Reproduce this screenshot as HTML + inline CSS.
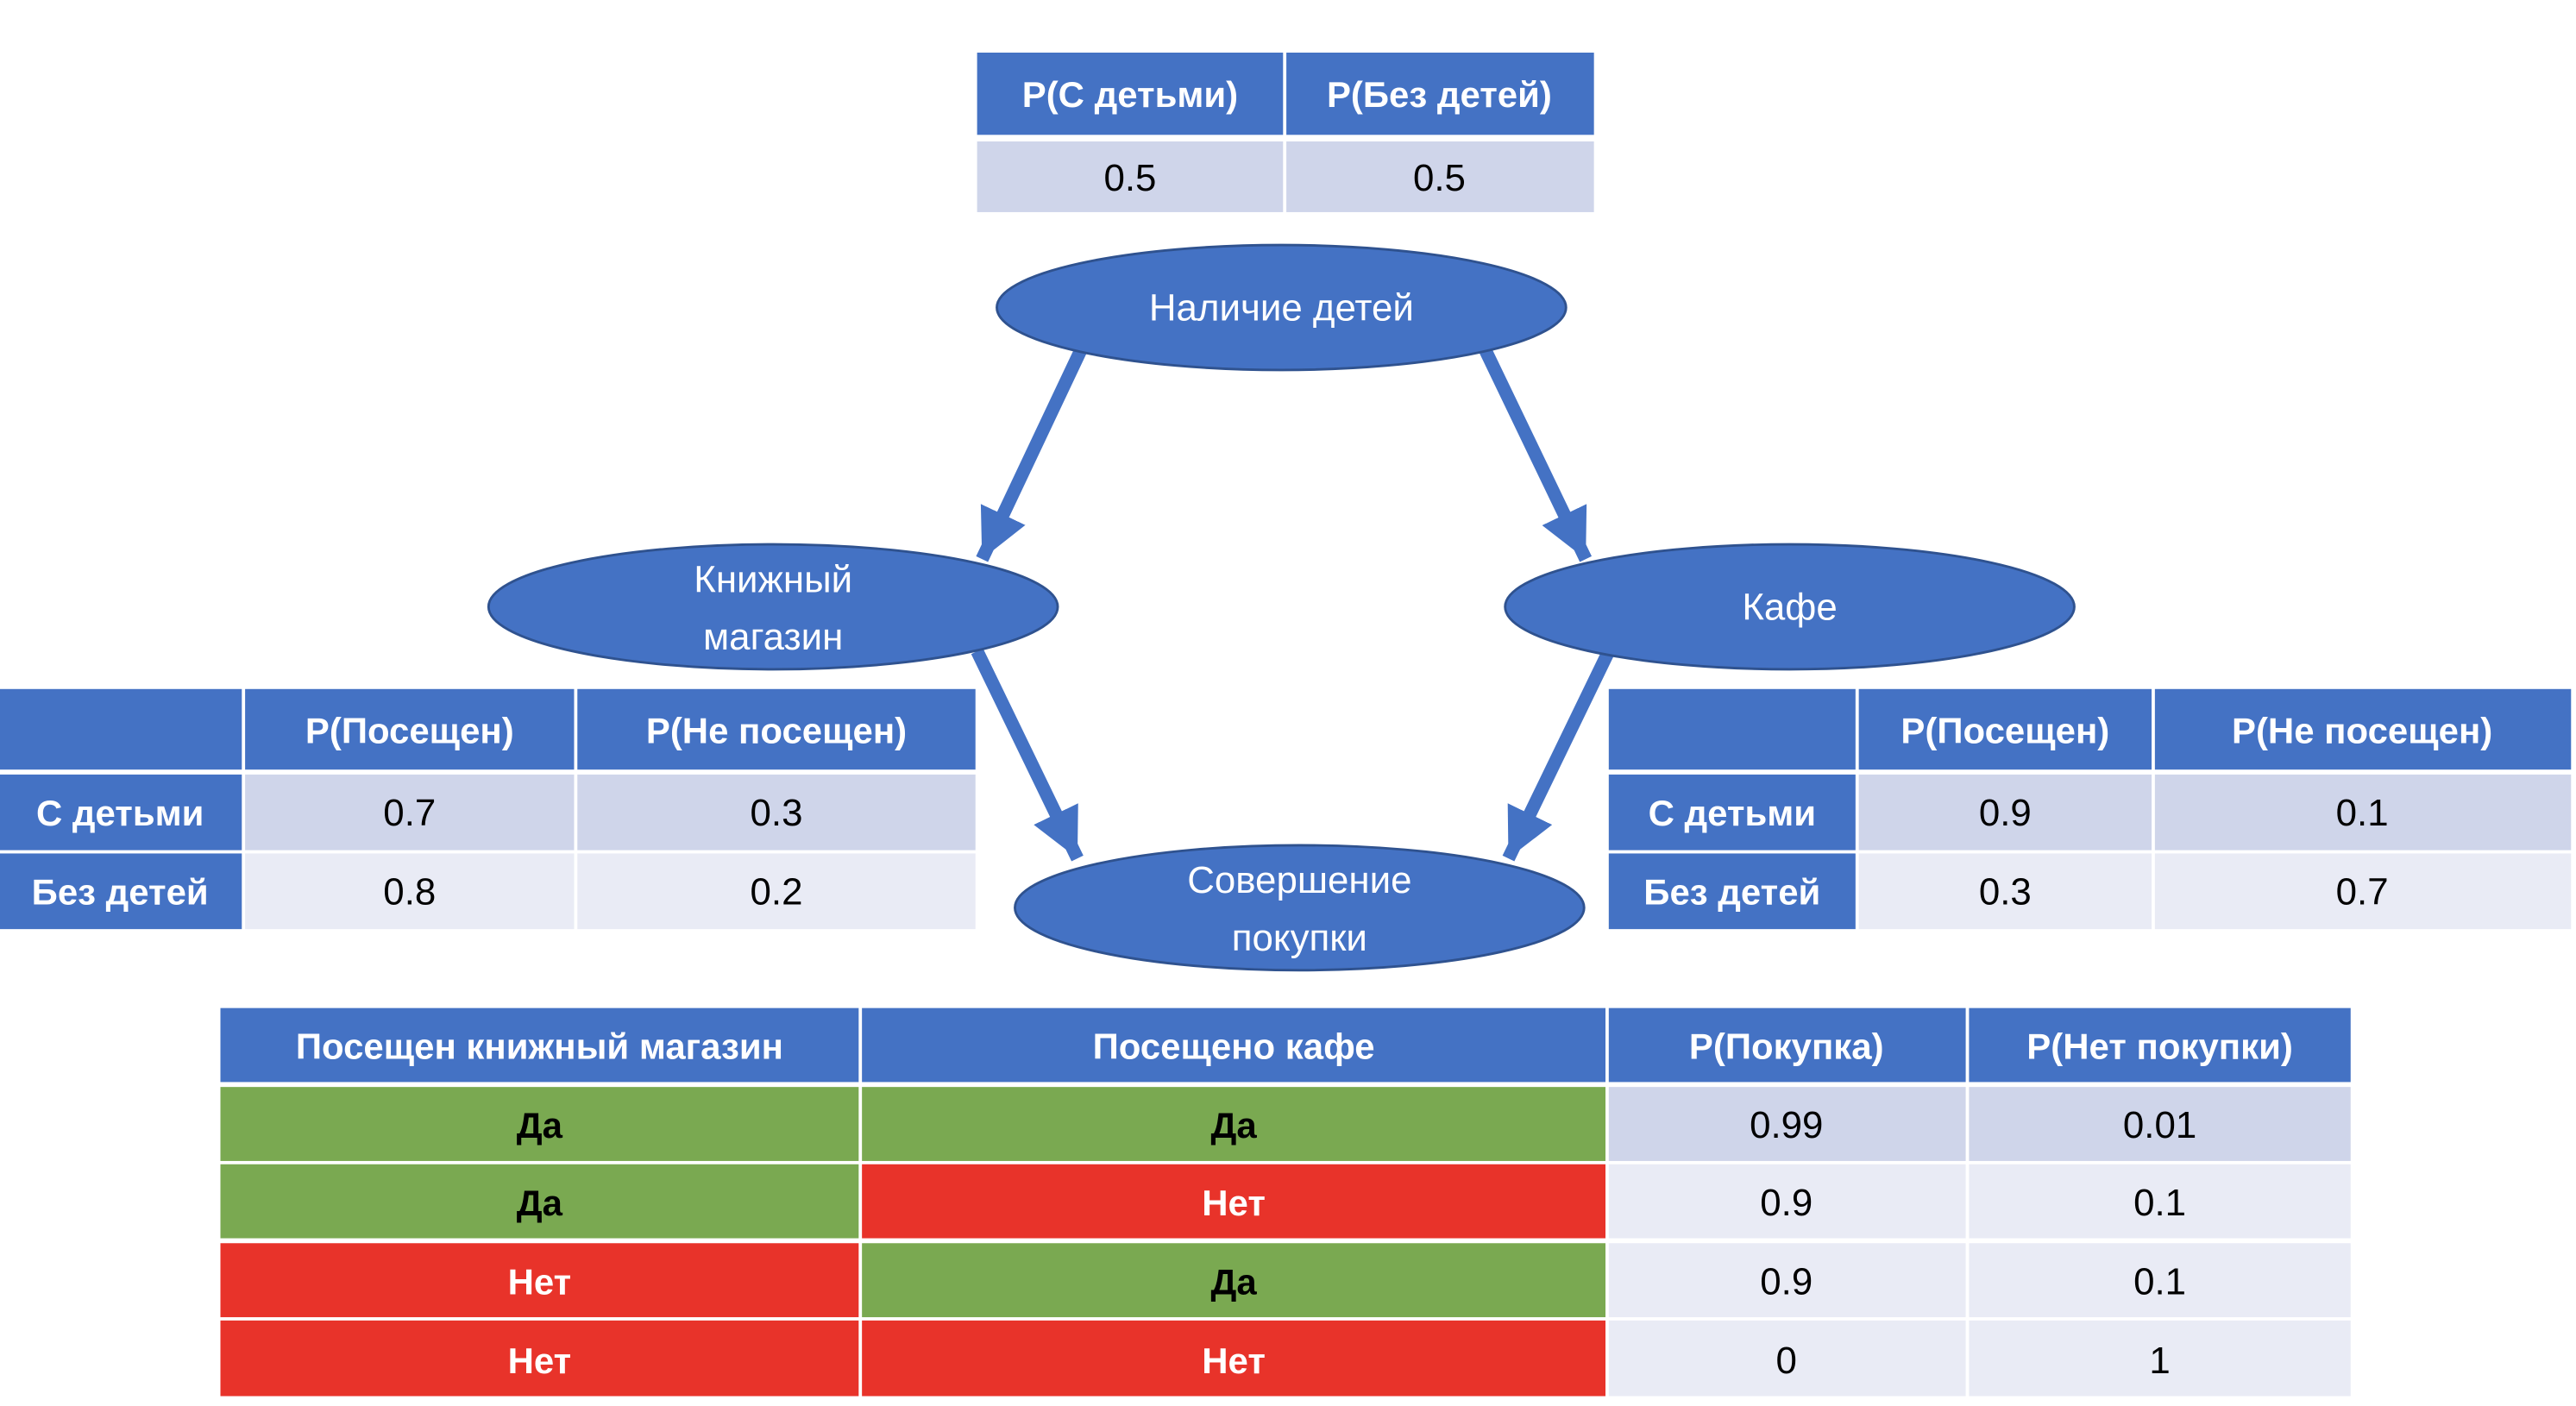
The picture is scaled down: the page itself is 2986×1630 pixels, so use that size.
<!DOCTYPE html>
<html><head><meta charset="utf-8"><style>
html,body{margin:0;padding:0;background:#fff;}
svg{display:block;}
text{font-family:"Liberation Sans","DejaVu Sans",sans-serif;}
</style></head><body>
<svg width="2986" height="1630" viewBox="0 0 1566 855" preserveAspectRatio="none" xmlns="http://www.w3.org/2000/svg">
<defs>
<marker id="ah" markerUnits="userSpaceOnUse" markerWidth="40" markerHeight="40" refX="30" refY="15" orient="auto">
<path d="M0,0 L30,15 L0,30 Z" fill="#4472C4"/>
</marker>
</defs>
<g stroke="#4472C4" stroke-width="8" fill="none">
<line x1="657" y1="213" x2="597" y2="340" marker-end="url(#ah)"/>
<line x1="903" y1="213" x2="964" y2="340" marker-end="url(#ah)"/>
<line x1="594" y1="396" x2="655" y2="522" marker-end="url(#ah)"/>
<line x1="978" y1="396" x2="917" y2="522" marker-end="url(#ah)"/>
</g>
<g fill="#4472C4" stroke="#2F528F" stroke-width="1.5">
<ellipse cx="779" cy="187" rx="173" ry="38"/>
<ellipse cx="470" cy="369" rx="173" ry="38"/>
<ellipse cx="1088" cy="369" rx="173" ry="38"/>
<ellipse cx="790" cy="552" rx="173" ry="38"/>
</g>
<g fill="#fff" font-size="23" text-anchor="middle">
<text x="779" y="195">Наличие детей</text>
<text x="470" y="360">Книжный</text>
<text x="470" y="395">магазин</text>
<text x="1088" y="377">Кафе</text>
<text x="790" y="543">Совершение</text>
<text x="790" y="578">покупки</text>
</g>
<!-- top table -->
<g>
<rect x="594" y="32" width="186" height="50" fill="#4472C4"/>
<rect x="782" y="32" width="187" height="50" fill="#4472C4"/>
<rect x="594" y="86" width="186" height="43" fill="#CFD5EA"/>
<rect x="782" y="86" width="187" height="43" fill="#CFD5EA"/>
<g font-size="22" font-weight="bold" fill="#fff" text-anchor="middle">
<text x="687" y="65">P(С детьми)</text><text x="875" y="65">P(Без детей)</text></g>
<g font-size="23" fill="#000" text-anchor="middle"><text x="687" y="116">0.5</text><text x="875" y="116">0.5</text></g>
</g>
<!-- left table -->
<g>
<rect x="0" y="419" width="147" height="49" fill="#4472C4"/>
<rect x="149" y="419" width="200" height="49" fill="#4472C4"/>
<rect x="351" y="419" width="242" height="49" fill="#4472C4"/>
<rect x="0" y="471" width="147" height="46" fill="#4472C4"/>
<rect x="149" y="471" width="200" height="46" fill="#CFD5EA"/>
<rect x="351" y="471" width="242" height="46" fill="#CFD5EA"/>
<rect x="0" y="519" width="147" height="46" fill="#4472C4"/>
<rect x="149" y="519" width="200" height="46" fill="#E9EBF5"/>
<rect x="351" y="519" width="242" height="46" fill="#E9EBF5"/>
<g font-size="22" font-weight="bold" fill="#fff" text-anchor="middle">
<text x="249" y="452">P(Посещен)</text><text x="472" y="452">P(Не посещен)</text>
<text x="73" y="502">С детьми</text><text x="73" y="550">Без детей</text></g>
<g font-size="23" fill="#000" text-anchor="middle">
<text x="249" y="502">0.7</text><text x="472" y="502">0.3</text>
<text x="249" y="550">0.8</text><text x="472" y="550">0.2</text></g>
</g>
<!-- right table -->
<g>
<rect x="978" y="419" width="150" height="49" fill="#4472C4"/>
<rect x="1130" y="419" width="178" height="49" fill="#4472C4"/>
<rect x="1310" y="419" width="253" height="49" fill="#4472C4"/>
<rect x="978" y="471" width="150" height="46" fill="#4472C4"/>
<rect x="1130" y="471" width="178" height="46" fill="#CFD5EA"/>
<rect x="1310" y="471" width="253" height="46" fill="#CFD5EA"/>
<rect x="978" y="519" width="150" height="46" fill="#4472C4"/>
<rect x="1130" y="519" width="178" height="46" fill="#E9EBF5"/>
<rect x="1310" y="519" width="253" height="46" fill="#E9EBF5"/>
<g font-size="22" font-weight="bold" fill="#fff" text-anchor="middle">
<text x="1219" y="452">P(Посещен)</text><text x="1436" y="452">P(Не посещен)</text>
<text x="1053" y="502">С детьми</text><text x="1053" y="550">Без детей</text></g>
<g font-size="23" fill="#000" text-anchor="middle">
<text x="1219" y="502">0.9</text><text x="1436" y="502">0.1</text>
<text x="1219" y="550">0.3</text><text x="1436" y="550">0.7</text></g>
</g>
<!-- bottom table -->
<g>
<rect x="134" y="613" width="388" height="45" fill="#4472C4"/>
<rect x="524" y="613" width="452" height="45" fill="#4472C4"/>
<rect x="978" y="613" width="217" height="45" fill="#4472C4"/>
<rect x="1197" y="613" width="232" height="45" fill="#4472C4"/>

<rect x="134" y="661" width="388" height="45" fill="#7AA951"/>
<rect x="524" y="661" width="452" height="45" fill="#7AA951"/>
<rect x="978" y="661" width="217" height="45" fill="#CFD5EA"/>
<rect x="1197" y="661" width="232" height="45" fill="#CFD5EA"/>

<rect x="134" y="708" width="388" height="45" fill="#7AA951"/>
<rect x="524" y="708" width="452" height="45" fill="#E8332A"/>
<rect x="978" y="708" width="217" height="45" fill="#E9EBF5"/>
<rect x="1197" y="708" width="232" height="45" fill="#E9EBF5"/>

<rect x="134" y="756" width="388" height="45" fill="#E8332A"/>
<rect x="524" y="756" width="452" height="45" fill="#7AA951"/>
<rect x="978" y="756" width="217" height="45" fill="#E9EBF5"/>
<rect x="1197" y="756" width="232" height="45" fill="#E9EBF5"/>

<rect x="134" y="803" width="388" height="46" fill="#E8332A"/>
<rect x="524" y="803" width="452" height="46" fill="#E8332A"/>
<rect x="978" y="803" width="217" height="46" fill="#E9EBF5"/>
<rect x="1197" y="803" width="232" height="46" fill="#E9EBF5"/>

<g font-size="22" font-weight="bold" fill="#fff" text-anchor="middle">
<text x="328" y="644">Посещен книжный магазин</text>
<text x="750" y="644">Посещено кафе</text>
<text x="1086" y="644">P(Покупка)</text>
<text x="1313" y="644">P(Нет покупки)</text>
</g>
<g font-size="22" font-weight="bold" text-anchor="middle">
<text x="328" y="692" fill="#000">Да</text><text x="750" y="692" fill="#000">Да</text>
<text x="328" y="739" fill="#000">Да</text><text x="750" y="739" fill="#fff">Нет</text>
<text x="328" y="787" fill="#fff">Нет</text><text x="750" y="787" fill="#000">Да</text>
<text x="328" y="835" fill="#fff">Нет</text><text x="750" y="835" fill="#fff">Нет</text>
</g>
<g font-size="23" fill="#000" text-anchor="middle">
<text x="1086" y="692">0.99</text><text x="1313" y="692">0.01</text>
<text x="1086" y="739">0.9</text><text x="1313" y="739">0.1</text>
<text x="1086" y="787">0.9</text><text x="1313" y="787">0.1</text>
<text x="1086" y="835">0</text><text x="1313" y="835">1</text>
</g>
</g>
</svg>
</body></html>
